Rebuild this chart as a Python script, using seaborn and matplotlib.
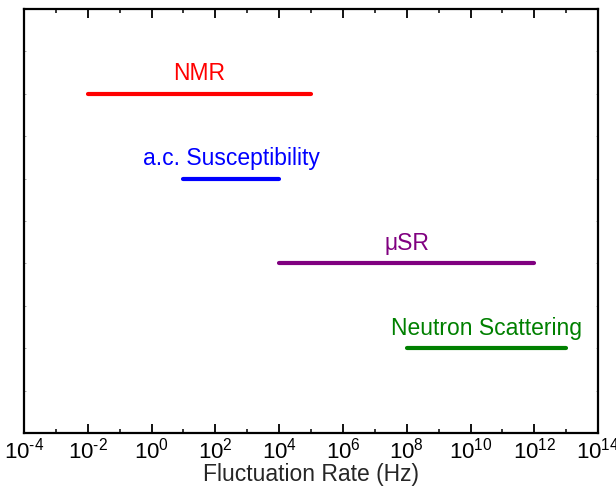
import matplotlib
matplotlib.use("Agg")
import matplotlib.pyplot as plt
import matplotlib.ticker as mticker
import numpy as np
import pandas as pd
import seaborn as sns

techniques = ["NMR", "a.c. Susceptibility", "\u03bcSR", "Neutron Scattering"]
rate_low = [1e-2, 1e1, 1e4, 1e8]
rate_high = [1e5, 1e4, 1e12, 1e13]
levels = [4, 3, 2, 1]
colors = ["#FF0000", "#0000FF", "#800080", "#008000"]
xtick_exps = list(range(-4, 15, 2))

sns.set_theme(style="white")
plt.rcParams["font.family"] = ["Liberation Sans", "DejaVu Sans"]
plt.rcParams["mathtext.fontset"] = "custom"
plt.rcParams["mathtext.rm"] = "Liberation Sans"
plt.rcParams["mathtext.it"] = "Liberation Sans:italic"
plt.rcParams["mathtext.bf"] = "Liberation Sans:bold"
plt.rcParams["axes.unicode_minus"] = False

rows = []
for t, lo, hi, lv in zip(techniques, rate_low, rate_high, levels):
    rows.append({"technique": t, "rate": lo, "level": lv})
    rows.append({"technique": t, "rate": hi, "level": lv})
df = pd.DataFrame(rows)

fig = plt.figure(figsize=(6.16, 4.87), dpi=100)
ax = fig.add_axes([0.039, 0.111, 0.932, 0.8705])

sns.lineplot(data=df, x="rate", y="level", hue="technique", units="technique",
             estimator=None, sort=False, palette=dict(zip(techniques, colors)),
             linewidth=3, legend=False, ax=ax, solid_capstyle="round")

for t, lo, hi, lv, c in zip(techniques, rate_low, rate_high, levels, colors):
    xc = np.sqrt(lo * hi)
    ax.text(xc, lv + 0.235, t, color=c, ha="center", va="center", fontsize=16.5)


def fmt(v, pos):
    e = int(round(np.log10(v)))
    es = str(e).replace("-", "\u2010")
    return "$\\mathdefault{10^{%s}}$" % es


ax.set_xscale("log")
ax.set_xlim(1e-4, 1e14)
ax.set_ylim(0, 5)
ax.xaxis.set_major_locator(mticker.FixedLocator([10.0**e for e in xtick_exps]))
ax.xaxis.set_major_formatter(mticker.FuncFormatter(fmt))
ax.xaxis.set_minor_locator(mticker.FixedLocator([10.0**e for e in range(-3, 14, 2)]))
ax.xaxis.set_minor_formatter(mticker.NullFormatter())
ax.set_yticks(np.arange(0, 5.01, 0.5))
ax.set_yticklabels([])
ax.tick_params(axis="x", which="major", direction="in", length=6.5, width=1.3,
               top=True, bottom=True, labelsize=16, pad=3, colors="black")
ax.tick_params(axis="x", which="minor", direction="in", length=3.2, width=1.3,
               top=True, bottom=True)
ax.tick_params(axis="y", which="major", direction="in", length=1.2, width=0.6,
               left=True, right=True, color="#9a9a9a")
for s in ax.spines.values():
    s.set_color("black")
    s.set_linewidth(1.6)
ax.set_xlabel("Fluctuation Rate (Hz)", fontsize=16.5, labelpad=0)
ax.set_ylabel("")

fig.savefig("out.png", dpi=100)
